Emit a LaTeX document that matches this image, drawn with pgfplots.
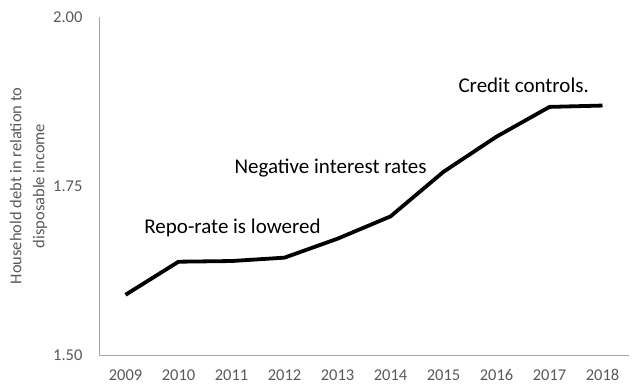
\documentclass[border=0pt]{standalone}
\usepackage{fontspec}
\setmainfont{Carlito}
\usepackage{pgfplots}
\pgfplotsset{compat=1.18}
\definecolor{axgray}{HTML}{A6A6A6}
\definecolor{txtgray}{HTML}{595959}
\begin{document}
\begin{tikzpicture}
\begin{axis}[
  scale only axis,
  width=530pt, height=338pt,
  xmin=-0.5, xmax=9.5,
  ymin=1.5, ymax=2.0,
  axis x line*=bottom, axis y line*=left,
  axis line style={axgray, line width=0.9pt},
  xtick={0,...,9},
  xticklabels={2009,2010,2011,2012,2013,2014,2015,2016,2017,2018},
  ytick={1.5,1.75,2.0},
  major tick length=0pt,
  /pgf/number format/assume math mode=true,
  yticklabel style={/pgf/number format/fixed, /pgf/number format/precision=2, /pgf/number format/fixed zerofill, font=\fontsize{16.5}{18}\selectfont, text=txtgray, xshift=-13pt},
  xticklabel style={font=\fontsize{16.5}{18}\selectfont, text=txtgray, anchor=north, text height=11pt, text depth=0pt, yshift=-11pt},
  every axis y label/.style={at={(rel axis cs:0,0.5)}, xshift=-70.5pt, rotate=90, anchor=center, align=center, font=\fontsize{16.5}{23}\selectfont, text=txtgray},
  ylabel={Household debt in relation to\\disposable income},
  clip=false,
]
\addplot[black, line width=3.8pt, line join=round] coordinates {
(0,1.589) (1,1.638) (2,1.639) (3,1.644) (4,1.672) (5,1.705) (6,1.771) (7,1.823) (8,1.867) (9,1.869)
};
\node[font=\fontsize{21}{24}\selectfont, anchor=center] at (axis cs:2.019,1.688) {Repo-rate is lowered};
\node[font=\fontsize{21}{24}\selectfont, anchor=center] at (axis cs:3.868,1.7766) {Negative interest rates};
\node[font=\fontsize{21}{24}\selectfont, anchor=center] at (axis cs:7.513,1.8987) {Credit controls.};
\end{axis}
\pgfresetboundingbox
\path ([shift={(-99pt,-35pt)}]current axis.south west) rectangle ([shift={(11pt,17pt)}]current axis.north east);
\end{tikzpicture}
\end{document}
